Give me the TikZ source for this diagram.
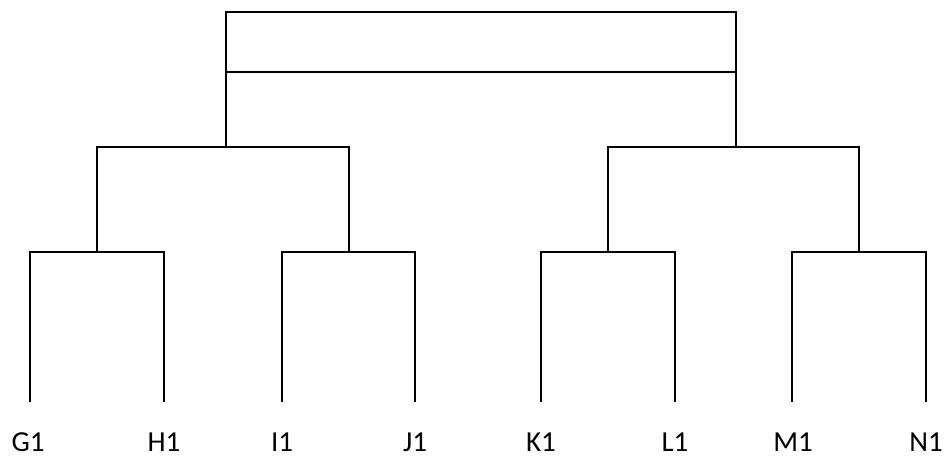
\documentclass[tikz,border=0pt]{standalone}
\usepackage{fontspec}
\setmainfont{Carlito}

\begin{document}
\begin{tikzpicture}[x=1pt,y=-1pt,
        leafname/.style={inner sep=0pt,outer ysep=31pt,text height=18pt,text depth=0pt,
            font=\fontsize{29}{33}\selectfont},
        branch/.style={line width=2pt,black}
    ]
        \useasboundingbox (0,0) rectangle (948,457);

        % Define the leaves
        \node[leafname] (G1) at (28,442) {G1};
        \node[leafname] (H1) at (164,442) {H1};
        \node[leafname] (I1) at (282,442) {I1};
        \node[leafname] (J1) at (415,442) {J1};
        \node[leafname] (K1) at (541,442) {K1};
        \node[leafname] (L1) at (675,442) {L1};
        \node[leafname] (M1) at (793,442) {M1};
        \node[leafname] (N1) at (926,442) {N1};

        % Define the joins
        \coordinate (GH) at (97,252);
        \coordinate (IJ) at (349,252);
        \coordinate (KL) at (608,252);
        \coordinate (MN) at (859,252);
        \coordinate (GHIJ) at (226,147);
        \coordinate (KLMN) at (736,147);
        \coordinate (Root) at (481,72);
        \coordinate (Roof) at (481,12);

        % Draw the branches
        \draw [branch] (G1.north) ++(2,0) |- (GH) -| (H1.north);
        \draw [branch] (I1.north) |- (IJ) -| (J1.north);
        \draw [branch] (K1.north) |- (KL) -| (L1.north);
        \draw [branch] (M1.north) ++(-1,0) |- (MN) -| (N1.north);
        \draw [branch] (GH) |- (GHIJ) -| (IJ);
        \draw [branch] (KL) |- (KLMN) -| (MN);
        \draw [branch] (GHIJ) |- (Root) -| (KLMN);
        \draw [branch] (GHIJ) |- (Roof) -| (KLMN); % Top bar
    \end{tikzpicture}
\end{document}
